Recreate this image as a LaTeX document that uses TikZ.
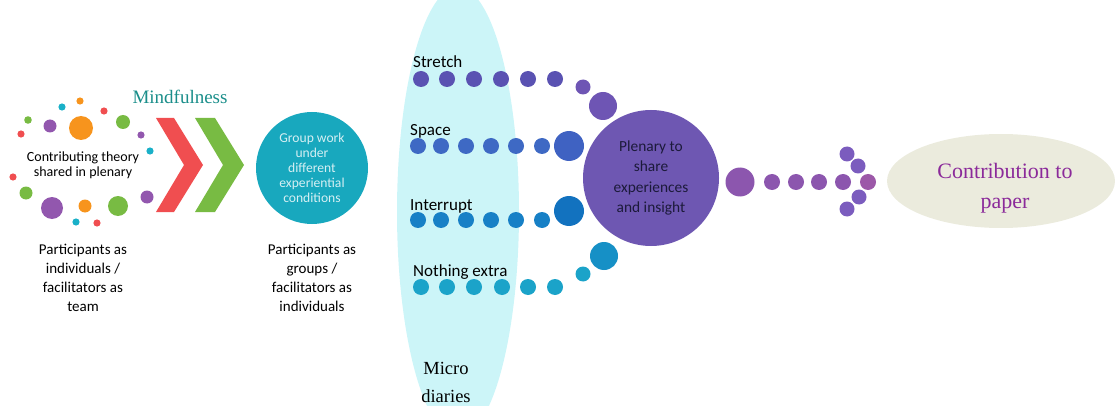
\documentclass[tikz,border=0pt]{standalone}
\usepackage{fontspec}
\setmainfont{Carlito}
\newfontfamily\serifx{Liberation Serif}
\usetikzlibrary{shapes.geometric}
\definecolor{cred}{HTML}{F04E50}
\definecolor{cgreen}{HTML}{78BB43}
\definecolor{dorange}{HTML}{F7941D}
\definecolor{dpurple}{HTML}{9257AE}
\definecolor{dcyan}{HTML}{1AB0C8}
\definecolor{teal1}{HTML}{18A8BE}
\definecolor{lcyan}{HTML}{CCF5F8}
\definecolor{rstretch}{HTML}{5A52B2}
\definecolor{rstretch2}{HTML}{6E55B4}
\definecolor{rspace}{HTML}{3E69C4}
\definecolor{rspace2}{HTML}{3F62C2}
\definecolor{rinter}{HTML}{1780C6}
\definecolor{rinter2}{HTML}{1272BF}
\definecolor{rnoth}{HTML}{1BA3C9}
\definecolor{rnoth2}{HTML}{1690C6}
\definecolor{plen}{HTML}{6E57B2}
\definecolor{rdot}{HTML}{8C56AE}
\definecolor{adot}{HTML}{7B5CBE}
\definecolor{tipdot}{HTML}{9C58A8}
\definecolor{beige}{HTML}{EBEBDD}
\definecolor{contrib}{HTML}{8B2A9A}
\definecolor{mindc}{HTML}{1A8E8A}
\definecolor{plentext}{HTML}{1C1A3A}
\tikzset{
  dot/.style={circle,inner sep=0pt,minimum size=#1},
  lbl/.style={font=\fontsize{17}{19}\selectfont,anchor=base west,inner sep=0pt},
  caption/.style={align=center,font=\fontsize{15}{19}\selectfont,inner sep=0pt},
}
\begin{document}
\begin{tikzpicture}[x=1pt,y=-1pt]
\useasboundingbox (0,0) rectangle (1115,406);
\clip (0,0) rectangle (1115,406);
% left cluster
\foreach \x/\y/\r/\c in {80/101/3.6/dorange,62/107/3.6/dcyan,104/111/3.6/cred,28/120/3.8/cgreen,
  50/126/6.5/dpurple,81/128/12/dorange,123/122/7/cgreen,21/134/3.6/cred,141/135/3.6/dpurple,
  150/151/3.6/dcyan,13/177/3.6/cred,26/193/6.5/cgreen,147/197/6.5/dpurple,52/208/11/dpurple,
  85/206/6.5/dorange,118/206/10/cgreen,76/222/3.6/dcyan,97/223/3.6/cred}
  \fill[\c] (\x,\y) circle (\r);
\node[align=center,font=\fontsize{14}{15}\selectfont,inner sep=0pt] (theory) at (83,165) {Contributing theory\\shared in plenary};
\node[caption] (indiv) at (83,278) {Participants as\\individuals /\\facilitators as\\team};
\node[font=\serifx\fontsize{19}{20}\selectfont,text=mindc,inner sep=0pt] (mind) at (180,97) {Mindfulness};
% chevrons
\fill[cred] (156,118) -- (174,118) -- (203,165) -- (174,212) -- (156,212) -- (184,165) -- cycle;
\fill[cgreen] (195,118) -- (215,118) -- (244,165) -- (215,212) -- (195,212) -- (223,165) -- cycle;
% group circle
\node[circle,fill=teal1,minimum size=112pt,inner sep=0pt] (group) at (312,168) {};
\node[align=center,text=white!82!teal1,font=\fontsize{13.6}{15}\selectfont,inner sep=0pt] at (group) {Group work\\under\\different\\experiential\\conditions};
\node[caption] (groups) at (312,278) {Participants as\\groups /\\facilitators as\\individuals};
% micro diaries ellipse
\node[ellipse,fill=lcyan,minimum width=122pt,minimum height=450pt,inner sep=0pt] (diary) at (458,212) {};
\node[align=center,font=\serifx\fontsize{18.5}{28}\selectfont,inner sep=0pt] (micro) at (446,382) {Micro\\diaries};
% rows
\node[lbl] (lstretch) at (413,68) {Stretch};
\node[lbl] (lspace) at (410,136) {Space};
\node[lbl] (linter) at (410,210) {Interrupt};
\node[lbl] (lnoth) at (413,276) {Nothing extra};
\foreach \x in {421,447,474,501,528,555} \fill[rstretch] (\x,79) circle (8);
\fill[rstretch2] (583,87) circle (7.5);
\fill[rstretch2] (603,106) circle (14);
\foreach \x in {418,441,466,491,516,542} \fill[rspace] (\x,146) circle (8);
\fill[rspace2] (569,146) circle (15);
\foreach \x in {418,441,466,491,516,542} \fill[rinter] (\x,220) circle (8);
\fill[rinter2] (569,211) circle (15);
\foreach \x in {421,447,474,502,528,555} \fill[rnoth] (\x,287) circle (8);
\fill[rnoth] (583,274) circle (7.5);
\fill[rnoth2] (604,256) circle (14);
% plenary
\node[circle,fill=plen,minimum size=136pt,inner sep=0pt] (plenary) at (651,178) {};
\node[align=center,text=plentext,font=\fontsize{15.4}{20.5}\selectfont,inner sep=0pt] at (plenary) {Plenary to\\share\\experiences\\and insight};
% right dots
\fill[rdot] (740,182) circle (14.5);
\foreach \x in {772,796,819,843} \fill[rdot] (\x,182) circle (8);
\fill[tipdot] (868,182) circle (8);
\foreach \x/\y in {847/154,858/166,859/197,847/209} \fill[adot] (\x,\y) circle (7.5);
% contribution
\node[ellipse,fill=beige,minimum width=228pt,minimum height=94pt,inner sep=0pt] (paper) at (1001,181) {};
\node[align=center,text=contrib,font=\serifx\fontsize{22}{30}\selectfont,inner sep=0pt] at (1005,188) {Contribution to\\paper};
\end{tikzpicture}
\end{document}
